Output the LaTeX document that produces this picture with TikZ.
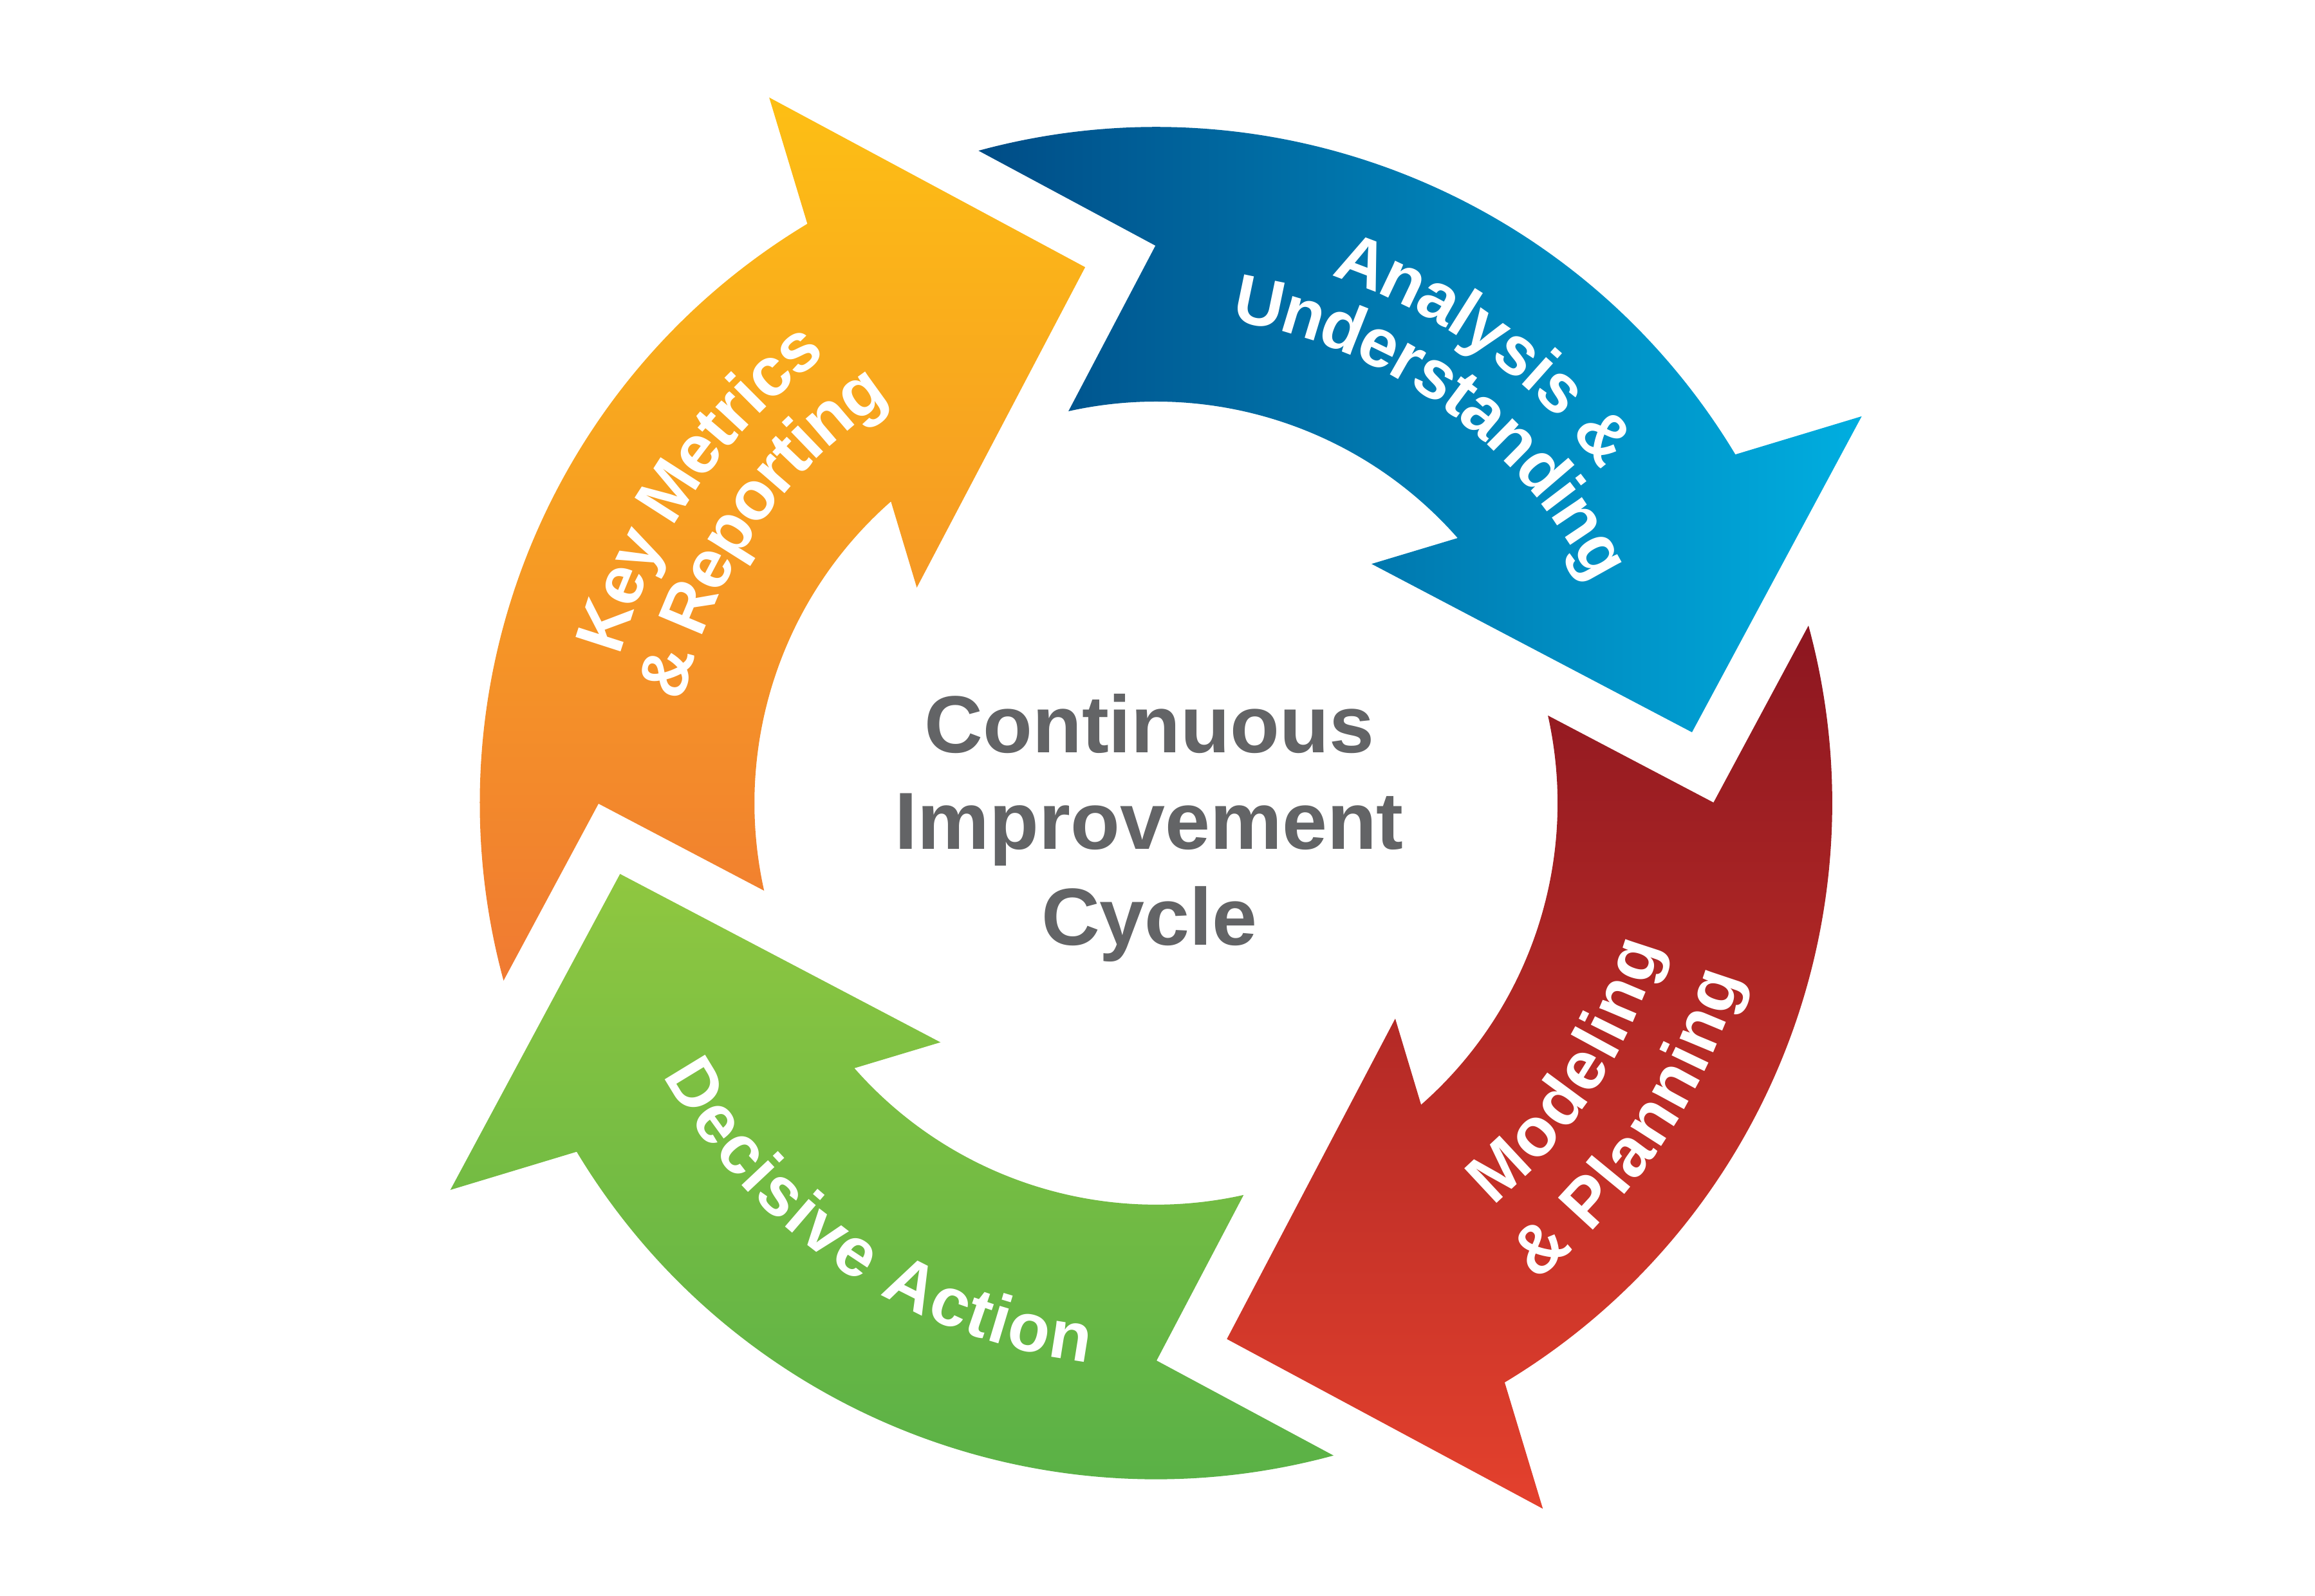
\documentclass[tikz,border=0pt]{standalone}
\usepackage{fontspec}
\setmainfont{Liberation Sans}
\usetikzlibrary{decorations.text}
\definecolor{bluedark}{HTML}{004C86}
\definecolor{bluelight}{HTML}{00AEE0}
\definecolor{orangedark}{HTML}{F07A32}
\definecolor{orangelight}{HTML}{FDBF14}
\definecolor{reddark}{HTML}{8C1620}
\definecolor{redlight}{HTML}{E4412D}
\definecolor{greenlight}{HTML}{8FC740}
\definecolor{greendark}{HTML}{55AF47}
\definecolor{centergray}{HTML}{636466}
\newcommand{\labelfont}{\fontsize{26.5}{30}\selectfont\bfseries}
% one curved arrow of the cycle, rotated by #1 degrees
\newcommand{\cyclearrow}[1]{%
  ({105.22+#1}:458) arc[start angle={105.22+#1}, end angle={31.04+#1}, radius=458]
  -- ({28.73+#1}:545.1) -- ({7.53+#1}:366.2) -- ({47.98+#1}:218.1)
  -- ({41.31+#1}:272) arc[start angle={41.31+#1}, end angle={102.6+#1}, radius=272]
  -- ({90.06+#1}:377.6) -- cycle}
% label along an arc: #1 radius, #2 start angle, #3 end angle, #4 text
\newcommand{\arclabel}[4]{%
  \path[decorate, decoration={text along path, text={|\labelfont|#4},
    text align=center, text color=white, raise=-3.3mm}]
    ({#2}:#1) arc[start angle={#2}, end angle={#3}, radius=#1];}
\tikzset{centertext/.style={anchor=base, inner sep=0pt,
  font=\fontsize{31.2}{36}\selectfont\bfseries, text=centergray}}
\begin{document}
\begin{tikzpicture}[x=0.2mm, y=0.2mm]
\useasboundingbox (-783,-537) rectangle (785,544);
% arrows
\shade[left color=bluedark, right color=bluelight] \cyclearrow{0};
\shade[bottom color=orangedark, top color=orangelight] \cyclearrow{90};
\shade[top color=greenlight, bottom color=greendark] \cyclearrow{180};
\shade[top color=reddark, bottom color=redlight] \cyclearrow{270};
% labels
\arclabel{393}{134.2}{-25.8}{Analysis {\&}}
\arclabel{347}{133.9}{-26.1}{Understanding}
\arclabel{393}{225.5}{65.5}{Key Metrics}
\arclabel{344}{225.6}{65.6}{{\&} Reporting}
\arclabel{339}{-113}{47}{Modeling}
\arclabel{397}{-114}{46}{{\&} Planning}
\arclabel{365}{156}{316}{Decisive Action}
% centre text
\node[centertext] (line1) at (-4.5,34) {Continuous};
\node[centertext] (line2) at (-4.5,-31) {Improvement};
\node[centertext] (line3) at (-4.5,-96) {Cycle};
\end{tikzpicture}
\end{document}
